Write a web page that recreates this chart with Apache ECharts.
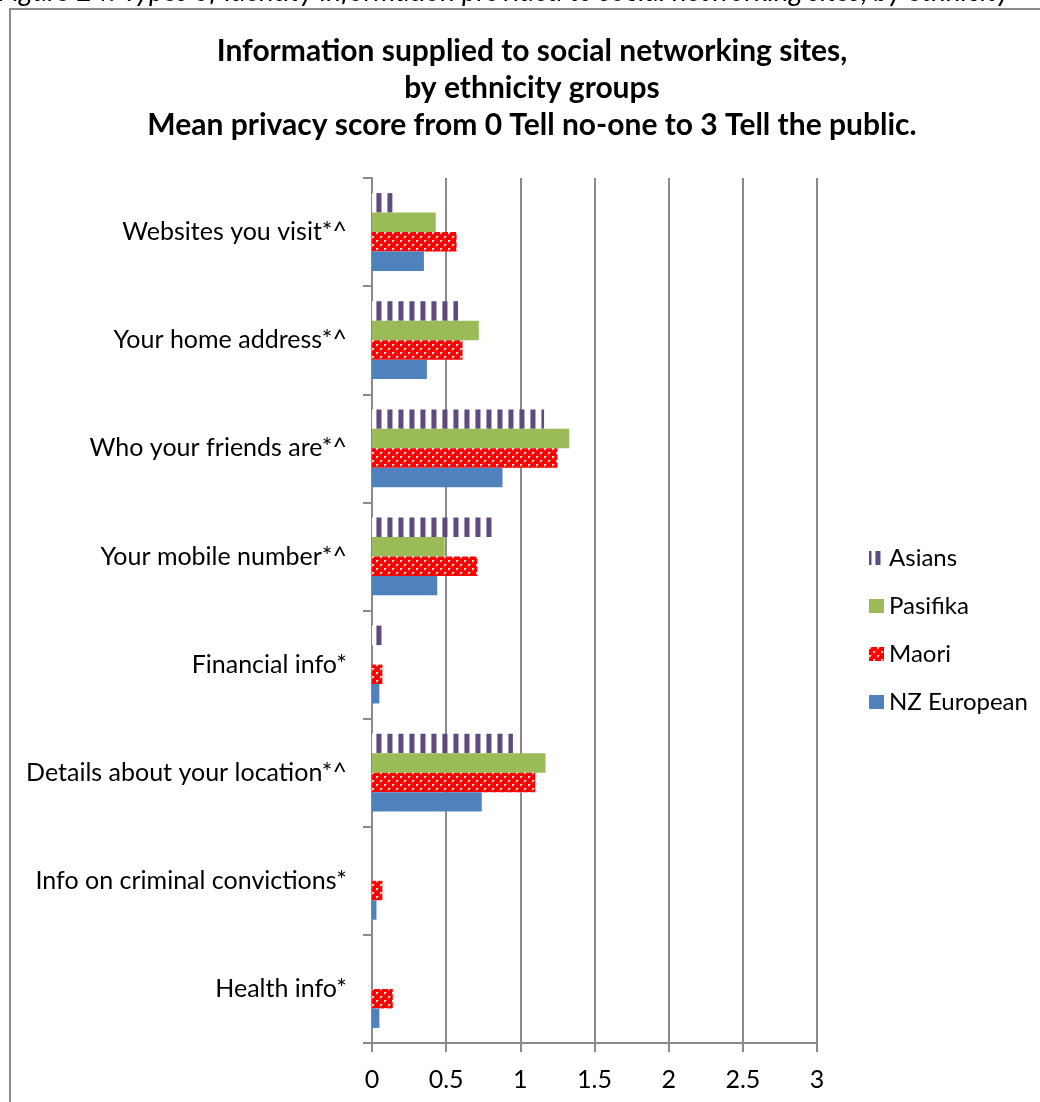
<!DOCTYPE html>
<html>
<head>
<meta charset="utf-8">
<script src="https://cdn.jsdelivr.net/npm/echarts@6/dist/echarts.min.js"></script>
<style>
  html, body { margin: 0; padding: 0; background: #fff; }
  #chart { width: 1040px; height: 1102px; }
</style>
</head>
<body>
<div id="chart"></div>
<script>
// Mean privacy score (0 = tell no-one, 3 = tell the public) by ethnicity group
const categories = [
  'Websites you visit*^',
  'Your home address*^',
  'Who your friends are*^',
  'Your mobile number*^',
  'Financial info*',
  'Details about your location*^',
  'Info on criminal convictions*',
  'Health info*'
];
const asians     = [0.14, 0.58, 1.16, 0.83, 0.07, 0.95, 0, 0];
const pasifika   = [0.43, 0.72, 1.33, 0.49, 0, 1.17, 0, 0];
const maori      = [0.57, 0.61, 1.25, 0.71, 0.07, 1.10, 0.07, 0.14];
const nzEuropean = [0.35, 0.37, 0.88, 0.44, 0.05, 0.74, 0.03, 0.05];
const seriesNames = ['Asians', 'Pasifika', 'Maori', 'NZ European'];
const xTicks = [0, 0.5, 1, 1.5, 2, 2.5, 3];

const FONT = 'Lato, "Open Sans", sans-serif';
const GRID_LEFT = 372;

// Vertical purple stripes on white
function stripePattern(period, offsetX) {
  const c = document.createElement('canvas');
  c.width = period; c.height = 4;
  const g = c.getContext('2d');
  g.fillStyle = '#ffffff'; g.fillRect(0, 0, period, 4);
  g.fillStyle = '#a397b5'; g.fillRect(period - 7, 0, 1, 4);
  g.fillStyle = '#5f4a7d'; g.fillRect(period - 6, 0, 4, 4);
  g.fillStyle = '#b3a9c3'; g.fillRect(period - 2, 0, 1, 4);
  return { image: c, repeat: 'repeat', x: offsetX };
}

// Red confetti pattern with small white dots
function confettiPattern() {
  const c = document.createElement('canvas');
  c.width = 8; c.height = 8;
  const g = c.getContext('2d');
  g.fillStyle = '#ff0000'; g.fillRect(0, 0, 8, 8);
  g.fillStyle = '#ffb3b3';
  g.fillRect(0, 0, 2, 2); g.fillRect(4, 4, 2, 2);
  g.fillStyle = '#ffffff';
  g.fillRect(0, 0, 1, 1); g.fillRect(4, 4, 1, 1);
  g.fillStyle = '#ff5c5c';
  g.fillRect(2, 0, 1, 1); g.fillRect(0, 2, 1, 1); g.fillRect(6, 4, 1, 1); g.fillRect(4, 6, 1, 1);
  return { image: c, repeat: 'repeat' };
}

const colors = [stripePattern(11, GRID_LEFT % 11), '#9bbb59', confettiPattern(), '#4f81bd'];
const values = [asians, pasifika, maori, nzEuropean];

const chart = echarts.init(document.getElementById('chart'), null, { renderer: 'canvas' });

chart.setOption({
  backgroundColor: '#ffffff',
  animation: false,
  textStyle: { fontFamily: FONT },
  grid: { left: GRID_LEFT, right: 223, top: 178, bottom: 59, containLabel: false },
  legend: {
    orient: 'vertical',
    left: 864,
    top: 541,
    data: seriesNames.map((name, i) => i === 0
      ? { name, itemStyle: { color: stripePattern(9, -5) } }
      : { name }),
    icon: 'rect',
    itemWidth: 15,
    itemHeight: 14,
    itemGap: 24,
    textStyle: { fontFamily: FONT, fontSize: 24, color: '#000', lineHeight: 24 },
    selectedMode: false
  },
  xAxis: {
    type: 'value',
    min: 0,
    max: 3,
    interval: 0.5,
    axisLine: { show: true, lineStyle: { color: '#8a8a8a', width: 2 } },
    axisTick: { show: true, length: 9, lineStyle: { color: '#8a8a8a', width: 2 } },
    splitLine: { show: true, lineStyle: { color: '#8a8a8a', width: 2 } },
    axisLabel: {
      margin: 24,
      fontFamily: FONT, fontSize: 25, color: '#000',
      formatter: v => String(xTicks.find(t => Math.abs(t - v) < 1e-9) ?? v)
    }
  },
  yAxis: {
    type: 'category',
    inverse: true,
    data: categories,
    axisLine: { show: true, lineStyle: { color: '#8a8a8a', width: 2 } },
    axisTick: { show: true, length: 9, lineStyle: { color: '#8a8a8a', width: 2 } },
    splitLine: { show: false },
    axisLabel: { margin: 25, fontFamily: FONT, fontSize: 25, color: '#000' }
  },
  series: seriesNames.map((name, i) => ({
    name,
    type: 'bar',
    data: values[i],
    barGap: '0%',
    barCategoryGap: '28%',
    itemStyle: { color: colors[i] }
  })),
  graphic: [
    {
      type: 'rect',
      silent: true,
      shape: { x: 10, y: 9, width: 1100, height: 1200 },
      style: { fill: 'none', stroke: '#8a8a8a', lineWidth: 2 }
    },
    {
      type: 'text',
      silent: true,
      x: -2, y: 6,
      style: {
        text: 'Figure 24: Types of identity information provided to social networking sites, by ethnicity',
        font: 'italic 28px ' + FONT,
        fill: '#000',
        textAlign: 'left',
        textVerticalAlign: 'bottom'
      }
    },
    {
      type: 'text',
      silent: true,
      x: 532, y: 33,
      style: {
        text: 'Information supplied to social networking sites,\nby ethnicity groups\nMean privacy score from 0 Tell no-one to 3 Tell the public.',
        font: 'bold 30px ' + FONT,
        lineHeight: 37,
        fill: '#000',
        textAlign: 'center',
        textVerticalAlign: 'top'
      }
    }
  ]
});
</script>
</body>
</html>
